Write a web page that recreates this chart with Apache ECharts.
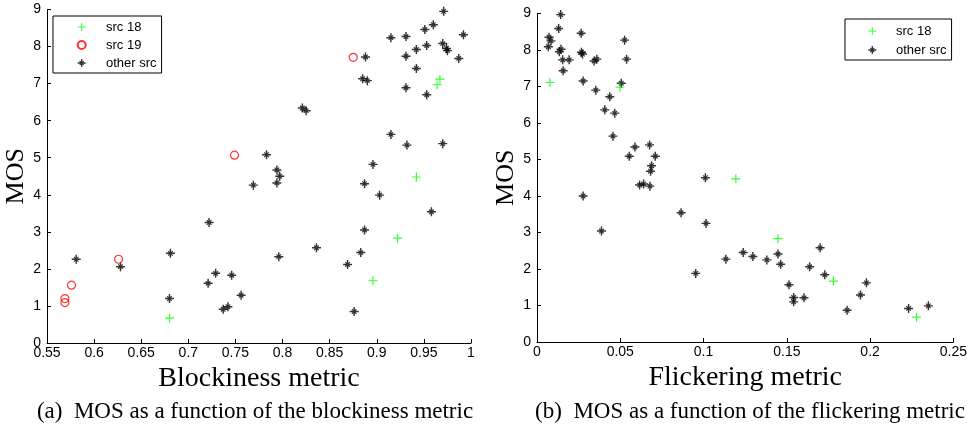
<!DOCTYPE html>
<html>
<head>
<meta charset="utf-8">
<script src="https://cdn.jsdelivr.net/npm/echarts@6/dist/echarts.min.js"></script>
<style>
html,body{margin:0;padding:0;background:#fff;}
#c{width:970px;height:425px;}
</style>
</head>
<body>
<div id="c"></div>
<script>
// ---- Data ----
// Left panel: MOS vs Blockiness metric  [metric, MOS]
const blockSrc18 = [[0.680,0.67],[0.896,1.68],[0.922,2.83],[0.942,4.48],[0.964,6.97],[0.967,7.12]];
const blockSrc19 = [[0.569,1.20],[0.569,1.09],[0.576,1.56],[0.626,2.26],[0.749,5.07],[0.875,7.71]];
const blockOther = [
  [0.971,8.95],[0.960,8.59],[0.951,8.46],[0.992,8.32],[0.915,8.24],[0.931,8.27],[0.970,8.08],
  [0.974,7.95],[0.975,7.89],[0.953,8.03],[0.942,7.92],[0.931,7.74],[0.987,7.68],[0.942,7.41],
  [0.931,6.89],[0.953,6.70],[0.915,5.63],[0.932,5.34],[0.970,5.38],[0.888,7.72],[0.885,7.13],
  [0.890,7.08],[0.821,6.34],[0.825,6.27],[0.783,5.08],[0.794,4.67],[0.797,4.50],[0.794,4.32],
  [0.769,4.26],[0.896,4.82],[0.887,4.30],[0.903,3.99],[0.958,3.54],[0.887,3.05],[0.836,2.57],
  [0.796,2.33],[0.883,2.44],[0.869,2.12],[0.756,1.29],[0.876,0.85],[0.581,2.26],[0.628,2.06],
  [0.681,2.42],[0.680,1.20],[0.722,3.25],[0.721,1.61],[0.729,1.88],[0.746,1.83],[0.737,0.91],
  [0.742,0.98]
];
// Right panel: MOS vs Flickering metric  [metric, MOS]
const flickSrc18 = [[0.0078,7.11],[0.0498,6.98],[0.1194,4.47],[0.1447,2.83],[0.1780,1.67],[0.2279,0.68]];
const flickOther = [
  [0.0142,8.97],[0.0130,8.59],[0.0265,8.46],[0.0072,8.35],[0.0084,8.25],[0.0068,8.09],[0.0144,8.02],
  [0.0134,7.95],[0.0154,7.73],[0.0193,7.73],[0.0267,7.94],[0.0273,7.89],[0.0343,7.70],[0.0359,7.75],
  [0.0526,8.27],[0.0538,7.75],[0.0157,7.43],[0.0277,7.15],[0.0506,7.09],[0.0353,6.90],[0.0437,6.72],
  [0.0407,6.36],[0.0467,6.27],[0.0456,5.64],[0.0588,5.34],[0.0554,5.09],[0.0676,5.40],[0.0710,5.09],
  [0.0688,4.83],[0.0682,4.68],[0.1011,4.50],[0.0277,4.00],[0.0616,4.30],[0.0640,4.33],[0.0678,4.27],
  [0.0387,3.04],[0.0865,3.54],[0.1015,3.25],[0.0953,1.88],[0.1134,2.27],[0.1238,2.45],[0.1296,2.34],
  [0.1380,2.25],[0.1447,2.41],[0.1463,2.13],[0.1700,2.58],[0.1637,2.06],[0.1728,1.84],[0.1513,1.57],
  [0.1978,1.62],[0.1541,1.22],[0.1541,1.10],[0.1603,1.21],[0.1942,1.29],[0.1862,0.87],[0.2231,0.92],
  [0.2350,0.99]
];
const seriesNames = ['src 18','src 19','other src'];
const xNames = ['Blockiness metric','Flickering metric'];
const yName = 'MOS';
const captions = ['(a)  MOS as a function of the blockiness metric','(b)  MOS as a function of the flickering metric'];

// ---- Styling ----
const PLUS = 'path://M4.35,0H5.65V10H4.35Z M0,4.35H10V5.65H0Z';
const STAR = 'path://M4.2,0H5.8V10H4.2Z M0,4.2H10V5.8H0Z M2,2.9L2.9,2L8,7.1L7.1,8Z M7.1,2L8,2.9L2.9,8L2,7.1Z M3.3,3.3H6.7V6.7H3.3Z';
const tickFont = "'Liberation Sans Narrow','Liberation Sans',Arial,sans-serif";
const serif = "'Liberation Serif','Times New Roman',serif";

function xAxisCfg(gi, min, max, interval) {
  return {
    type:'value', gridIndex:gi, min:min, max:max, interval:interval,
    name:xNames[gi], nameLocation:'middle', nameGap:18,
    nameTextStyle:{fontFamily:serif, fontSize:28, color:'#000'},
    axisLine:{show:true, onZero:false, lineStyle:{color:'#000', width:1}},
    axisTick:{show:true, inside:true, length:4, lineStyle:{color:'#000'}},
    axisLabel:{color:'#000', fontFamily:tickFont, fontSize:14, margin:3},
    splitLine:{show:false}
  };
}
function yAxisCfg(gi) {
  return {
    type:'value', gridIndex:gi, min:0, max:9, interval:1,
    name:yName, nameLocation:'middle', nameGap:8, nameRotate:90,
    nameTextStyle:{fontFamily:serif, fontSize:26, color:'#000'},
    axisLine:{show:true, onZero:false, lineStyle:{color:'#000', width:1}},
    axisTick:{show:true, inside:true, length:4, lineStyle:{color:'#000'}},
    axisLabel:{color:'#000', fontFamily:tickFont, fontSize:14, margin:6},
    splitLine:{show:false}
  };
}
const otherStyle = {symbol:STAR, symbolSize:9, itemStyle:{color:'#000'}};
const s18Style = {symbol:PLUS, symbolSize:9, itemStyle:{color:'#00ff00'}};
const s19Style = {symbol:'circle', symbolSize:8, itemStyle:{color:'rgba(255,255,255,0)', borderColor:'#ff0000', borderWidth:1.2}};

const option = {
  backgroundColor:'#fff',
  animation:false,
  title:[
    {text:captions[0], left:250, textAlign:'center', top:395, textStyle:{fontFamily:serif, fontSize:23, fontWeight:'normal', color:'#000'}},
    {text:captions[1], left:745, textAlign:'center', top:395, textStyle:{fontFamily:serif, fontSize:23, fontWeight:'normal', color:'#000'}}
  ],
  grid:[
    {left:47, top:9.5, width:424, height:333.5},
    {left:537, top:13.5, width:418, height:328.5}
  ],
  xAxis:[xAxisCfg(0,0.55,1,0.05), xAxisCfg(1,0,0.25,0.05)],
  yAxis:[yAxisCfg(0), yAxisCfg(1)],
  legend:[
    {data:seriesNames, orient:'vertical', left:53, top:16, selectedMode:false,
     backgroundColor:'#fff', borderColor:'#000', borderWidth:1, borderRadius:0,
     padding:[4,5,3,23.7], itemWidth:8, itemHeight:8, itemGap:4,
     textStyle:{fontFamily:"'Liberation Sans',Arial,sans-serif", fontSize:13, color:'#000', lineHeight:14, padding:[0,0,0,15.3]}},
    {data:['src 18','other src'], orient:'vertical', left:845, top:19, selectedMode:false,
     backgroundColor:'#fff', borderColor:'#000', borderWidth:1, borderRadius:0,
     padding:[5,5,3,23.3], itemWidth:8, itemHeight:8, itemGap:5,
     textStyle:{fontFamily:"'Liberation Sans',Arial,sans-serif", fontSize:13, color:'#000', lineHeight:14, padding:[0,0,0,14.7]}}
  ],
  series:[
    Object.assign({type:'scatter', name:'other src', xAxisIndex:0, yAxisIndex:0, data:blockOther}, otherStyle),
    Object.assign({type:'scatter', name:'src 19', xAxisIndex:0, yAxisIndex:0, data:blockSrc19}, s19Style),
    Object.assign({type:'scatter', name:'src 18', xAxisIndex:0, yAxisIndex:0, data:blockSrc18}, s18Style),
    Object.assign({type:'scatter', name:'other src', xAxisIndex:1, yAxisIndex:1, data:flickOther}, otherStyle),
    Object.assign({type:'scatter', name:'src 18', xAxisIndex:1, yAxisIndex:1, data:flickSrc18}, s18Style)
  ]
};
const chart = echarts.init(document.getElementById('c'), null, {renderer:'canvas'});
chart.setOption(option);
</script>
</body>
</html>
